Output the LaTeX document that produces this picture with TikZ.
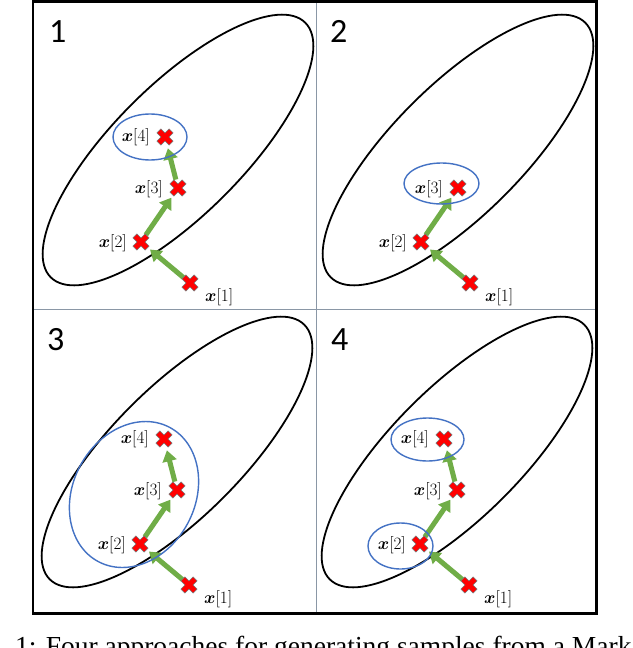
\documentclass[tikz,border=0pt]{standalone}
\usepackage{fontspec}
\usepackage{amsmath}
\usetikzlibrary{arrows.meta}
\newfontfamily\numfont{Carlito}
\newfontfamily\capfont{Liberation Serif}
\definecolor{xred}{HTML}{FF0000}
\definecolor{xgreen}{HTML}{70AD47}
\definecolor{xblue}{HTML}{4472C4}
\definecolor{divgray}{HTML}{8A97A6}
\pgfdeclarelayer{bg}
\pgfsetlayers{bg,main}
\newcommand\chainbase[1]{%
  \node[mk] (#1m1) at (190,283) {};
  \node[mk] (#1m2) at (141,242) {};
  \node[mk] (#1m3) at (178,188) {};
  \node[lbl, anchor=west] (#1l1) at (205,297) {$\boldsymbol{x}[1]$};
  \node[lbl, anchor=east] (#1l2) at (127,243) {$\boldsymbol{x}[2]$};
  \node[lbl, anchor=east] (#1l3) at (163,189) {$\boldsymbol{x}[3]$};
  \begin{pgfonlayer}{bg}
    \draw[ellip, rotate around={45:(178,150)}] (178,150) ellipse [x radius=180pt, y radius=65pt];
    \draw[garrow] (#1m1) -- (#1m2);
    \draw[garrow] (#1m2) -- (#1m3);
  \end{pgfonlayer}
}
\newcommand\chainfour[1]{%
  \node[mk] (#1m4) at (165,137) {};
  \node[lbl, anchor=east] (#1l4) at (150,137) {$\boldsymbol{x}[4]$};
  \begin{pgfonlayer}{bg}
    \draw[garrow] (#1m3) -- (#1m4);
  \end{pgfonlayer}
}
\begin{document}
\begin{tikzpicture}[x=1pt,y=-1pt,
  mk/.style={circle, minimum size=23pt, inner sep=0pt,
    path picture={\filldraw[fill=xred, draw=black!55, line width=0.5pt,
      shift={(path picture bounding box.center)}, scale=1.08]
      (-4.1,8.06)--(0,3.96)--(4.1,8.06)--(8.06,4.1)--(3.96,0)--(8.06,-4.1)--
      (4.1,-8.06)--(0,-3.96)--(-4.1,-8.06)--(-8.06,-4.1)--(-3.96,0)--(-8.06,4.1)--cycle;}},
  lbl/.style={font=\fontsize{17}{19}\selectfont, inner sep=0pt},
  numlbl/.style={font=\numfont\fontsize{34}{38}\selectfont, inner sep=0pt, anchor=base west},
  garrow/.style={draw=xgreen, line width=5pt, shorten <=-3pt,
    -{Triangle[width=14pt,length=11pt]}},
  ellip/.style={draw=black, line width=1.8pt},
  bell/.style={draw=xblue, line width=1.4pt}]
\useasboundingbox (0,0) rectangle (632,648);
\begin{pgfonlayer}{bg}
  \fill[white] (0,0) rectangle (632,648);
\end{pgfonlayer}
\clip (0,0) rectangle (632,648);
% dividers and frame
\draw[divgray, line width=1pt] (316,1.3) -- (316,613.3);
\draw[divgray, line width=1pt] (33,309) -- (596.3,309);
\draw[line width=2.5pt] (33,1.3) rectangle (596.3,613.3);
% panel numbers
\node[numlbl] (n1) at (49,42) {1};
\node[numlbl] (n2) at (330,42) {2};
\node[numlbl] (n3) at (47,350) {3};
\node[numlbl] (n4) at (331,350) {4};
% panel 1
\begin{scope}
  \chainbase{a}
  \chainfour{a}
\end{scope}
\draw[bell] (150,137) ellipse [x radius=37pt, y radius=23pt];
% panel 2
\begin{scope}[shift={(280,0)}]
  \chainbase{b}
\end{scope}
\draw[bell] (441.5,183.5) ellipse [x radius=37.5pt, y radius=20.5pt];
% panel 3
\begin{scope}[shift={(-1,302)}]
  \chainbase{c}
  \chainfour{c}
\end{scope}
\draw[bell, rotate around={-28:(134,494.5)}] (134,494.5) ellipse [x radius=61pt, y radius=76pt];
% panel 4
\begin{scope}[shift={(279,302)}]
  \chainbase{d}
  \chainfour{d}
\end{scope}
\draw[bell] (427.5,439.5) ellipse [x radius=36.5pt, y radius=21.5pt];
\draw[bell] (400.5,546) ellipse [x radius=32.5pt, y radius=23pt];
% caption (cut off by the page edge, as in the reference)
\node[anchor=base west, inner sep=0pt, font=\capfont\fontsize{27.5}{30}\selectfont] (cap) at (15,655) {1: Four approaches for generating samples from a Mark};
\end{tikzpicture}
\end{document}
